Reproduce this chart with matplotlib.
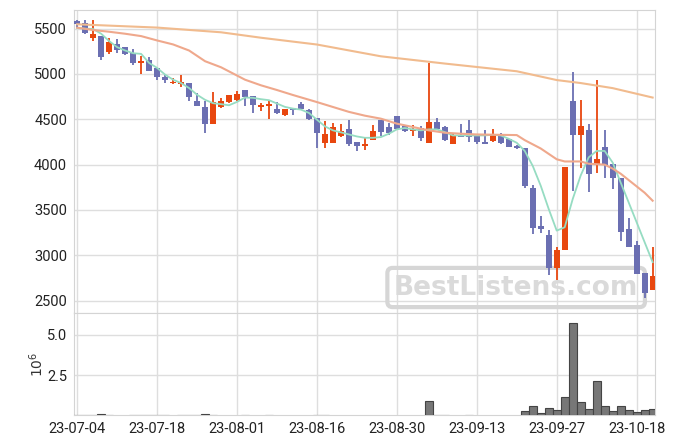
import numpy as np
import matplotlib.pyplot as plt

plt.rcParams['font.family'] = ['Roboto', 'DejaVu Sans']

# daily OHLC, one row per trading day
opens = [5590, 5559, 5392, 5414, 5240, 5326, 5303, 5237, 5118, 5155,
         5070, 4970, 4904, 4885, 4900, 4704, 4637, 4452, 4637, 4692,
         4715, 4822, 4755, 4637, 4648, 4618, 4548, 4622, 4666, 4600,
         4518, 4237, 4237, 4315, 4389, 4252, 4204, 4271, 4489, 4411,
         4541, 4422, 4367, 4400, 4237, 4467, 4415, 4233, 4326, 4385,
         4311, 4245, 4259, 4322, 4278, 4210, 4187, 3737, 3320, 3225,
         2859, 3053, 4707, 4327, 4378, 3993, 4191, 4004, 3858, 3291,
         3115, 2808, 2621]
highs = [5600, 5592, 5592, 5414, 5400, 5385, 5303, 5274, 5200, 5192,
         5070, 4989, 4956, 4993, 4900, 4785, 4704, 4800, 4740, 4766,
         4811, 4822, 4755, 4685, 4703, 4696, 4611, 4622, 4696, 4615,
         4518, 4478, 4459, 4448, 4489, 4252, 4296, 4441, 4489, 4463,
         4541, 4441, 4441, 4430, 5118, 4518, 4426, 4352, 4444, 4496,
         4311, 4385, 4389, 4348, 4278, 4215, 4187, 3774, 3437, 3284,
         3086, 3971, 5022, 4718, 4451, 4930, 4378, 4004, 3858, 3408,
         3152, 2808, 3090]
lows = [5505, 5440, 5363, 5155, 5218, 5229, 5207, 5104, 5000, 5030,
        4933, 4900, 4889, 4856, 4697, 4652, 4345, 4452, 4622, 4681,
        4703, 4644, 4574, 4596, 4500, 4555, 4537, 4552, 4607, 4496,
        4185, 4182, 4237, 4304, 4204, 4152, 4163, 4271, 4315, 4330,
        4378, 4359, 4311, 4260, 4237, 4381, 4260, 4233, 4304, 4252,
        4233, 4233, 4248, 4233, 4196, 4175, 3737, 3236, 3243, 2786,
        2724, 3053, 3704, 3968, 3693, 3913, 3847, 3730, 3152, 3086,
        2797, 2530, 2621]
closes = [5555, 5451, 5437, 5185, 5355, 5263, 5218, 5118, 5148, 5030,
          4963, 4933, 4911, 4907, 4745, 4652, 4452, 4693, 4700, 4766,
          4778, 4748, 4663, 4659, 4670, 4574, 4611, 4604, 4615, 4504,
          4348, 4333, 4411, 4367, 4230, 4204, 4233, 4367, 4359, 4348,
          4393, 4370, 4389, 4293, 4467, 4396, 4267, 4322, 4304, 4304,
          4248, 4233, 4322, 4241, 4196, 4180, 3767, 3305, 3295, 2859,
          3057, 3971, 4327, 4422, 3898, 4059, 3993, 3854, 3262, 3086,
          2797, 2588, 2775]

# volume in millions
volume = [0.03, 0.03, 0.03, 0.08, 0.03, 0, 0, 0.03, 0.03, 0.03,
          0.03, 0.03, 0, 0.03, 0.03, 0.03, 0.08, 0.03, 0, 0,
          0, 0.03, 0, 0, 0.03, 0, 0, 0, 0, 0,
          0.03, 0.03, 0, 0, 0, 0, 0, 0, 0, 0,
          0, 0, 0, 0, 0.9, 0.05, 0.05, 0, 0, 0.03,
          0, 0, 0, 0, 0, 0, 0.27, 0.58, 0.12, 0.44,
          0.33, 1.12, 5.75, 0.83, 0.40, 2.15, 0.56, 0.27, 0.56, 0.33,
          0.19, 0.33, 0.40]

# moving average lines
ma_short_x = list(range(73))
ma_short = [5507, 5500, 5496, 5444, 5363, 5296, 5259, 5229, 5222, 5122,
            5067, 4993, 4937, 4900, 4845, 4771, 4715, 4678, 4667, 4655,
            4692, 4740, 4737, 4722, 4711, 4674, 4637, 4618, 4607, 4570,
            4496, 4422, 4378, 4356, 4333, 4311, 4296, 4296, 4304, 4341,
            4389, 4404, 4389, 4378, 4389, 4389, 4359, 4322, 4322, 4322,
            4322, 4322, 4330, 4322, 4285, 4241, 4151, 3986, 3767, 3510,
            3272, 3309, 3620, 3880, 4080, 4151, 4151, 4023, 3803, 3584,
            3364, 3144, 2925]
ma_mid_x = [0, 2, 4, 6, 8, 10, 12, 14, 16, 18, 21, 23, 25, 27, 30, 32, 34, 36,
            38, 40, 42, 44, 46, 48, 50, 52, 55, 56, 58, 60, 61, 63, 64, 66, 67,
            68, 70, 71, 72]
ma_mid = [5511, 5485, 5466, 5444, 5418, 5370, 5326, 5259, 5141, 5074, 4937,
          4875, 4823, 4768, 4690, 4636, 4582, 4540, 4507, 4452, 4415, 4378,
          4352, 4341, 4333, 4330, 4326, 4270, 4178, 4059, 4035, 4035, 4010,
          4000, 3956, 3900, 3760, 3690, 3602]
ma_long_x = [0, 10, 18, 23, 30, 38, 46, 55, 60, 63, 67, 72]
ma_long = [5548, 5512, 5460, 5400, 5325, 5195, 5115, 5030, 4933, 4900, 4844, 4740]

tick_pos = [0, 10, 20, 30, 40, 50, 60, 70]
tick_labels = ['23-07-04', '23-07-18', '23-08-01', '23-08-16',
               '23-08-30', '23-09-13', '23-09-27', '23-10-18']

up_color = '#e8470f'
down_color = '#6b6fb2'
grid_color = '#dedede'

fig = plt.figure(figsize=(6.75, 4.44), dpi=100)
ax = fig.add_axes([0.1096, 0.2944, 0.8608, 0.6831])
axv = fig.add_axes([0.1096, 0.0646, 0.8608, 0.2298], sharex=ax)

x = np.arange(len(opens))
o = np.array(opens)
c = np.array(closes)
colors = [up_color if cc >= oo else down_color for oo, cc in zip(o, c)]
ax.vlines(x, lows, highs, colors=colors, linewidth=1.3, zorder=3)
body_bot = np.minimum(o, c)
body_h = np.maximum(np.abs(c - o), 12)
ax.bar(x, body_h, bottom=body_bot, width=0.72, color=colors, zorder=4)

ax.plot(ma_short_x, ma_short, color='#96dcc2', linewidth=1.3, zorder=5)
ax.plot(ma_mid_x, ma_mid, color='#efa88c', linewidth=1.5, zorder=5)
ax.plot(ma_long_x, ma_long, color='#f1bb8e', linewidth=1.5, zorder=5)

ax.set_xlim(-0.4, 72.3)
ax.set_ylim(2360, 5706)
ax.set_yticks([2500, 3000, 3500, 4000, 4500, 5000, 5500])

vx = [i for i in x if volume[i] > 0]
vv = [volume[i] * 1e6 for i in vx]
axv.bar(vx, vv, width=1.0, color='#777777', edgecolor='#444444', linewidth=0.8, zorder=3)
axv.set_ylim(0, 6.35e6)
axv.set_yticks([2.5e6, 5.0e6])
axv.set_yticklabels(['2.5', '5.0'])
axv.set_ylabel('$10^{6}$', fontsize=10, color='#333333', labelpad=1)

axv.set_xticks(tick_pos)
axv.set_xticklabels(tick_labels)
plt.setp(ax.get_xticklabels(), visible=False)

for a in (ax, axv):
    a.grid(True, color=grid_color, linewidth=1.0, zorder=0)
    a.set_axisbelow(True)
    for s in a.spines.values():
        s.set_color('#d4d4d4')
    a.tick_params(length=0, labelsize=10.5, labelcolor='#222222', pad=5)

# watermark
ax.text(0.761, 0.085, 'BestListens.com', fontsize=19, fontweight='bold',
        color='#dadada', ha='center', va='center', family='DejaVu Sans',
        transform=ax.transAxes, zorder=1,
        bbox=dict(boxstyle='round,pad=0.25,rounding_size=0.2', fc='none',
                  ec='#d6d6d6', lw=3))

fig.savefig('out.png', dpi=100)
